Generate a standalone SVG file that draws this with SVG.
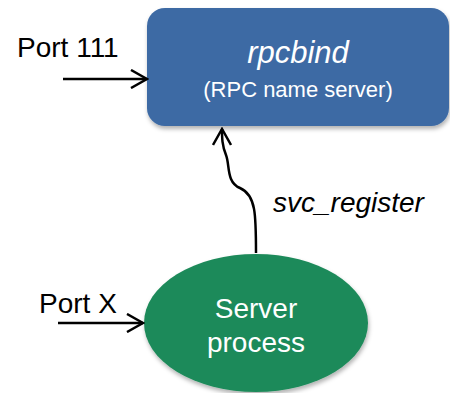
<svg xmlns="http://www.w3.org/2000/svg" width="450" height="393" viewBox="0 0 450 393">
<style>
.lbl{font-family:"Liberation Sans",Arial,sans-serif;fill:#000}
.wt{font-family:"Liberation Sans",Arial,sans-serif;fill:#fff;text-anchor:middle}
.con{fill:none;stroke:#000;stroke-width:2.5}
</style>
<defs>
<marker id="ah" viewBox="0 0 20 20" refX="18" refY="10" markerWidth="20" markerHeight="20" markerUnits="userSpaceOnUse" orient="auto">
<path d="M2,1 L18,10 L2,19" fill="none" stroke="#000" stroke-width="2.5"/>
</marker>
<filter id="sh" x="-10%" y="-10%" width="120%" height="130%">
<feDropShadow dx="1" dy="3" stdDeviation="2" flood-color="#000" flood-opacity="0.3"/>
</filter>
</defs>
<rect width="450" height="393" fill="#fff"/>
<g id="rpcbind">
<rect x="147" y="8" width="302" height="118" rx="18" fill="#3D6AA4" filter="url(#sh)"/>
<text class="wt" x="298" y="63" font-size="31" font-style="italic">rpcbind</text>
<text class="wt" x="298" y="97" font-size="22">(RPC name server)</text>
</g>
<g id="server">
<ellipse cx="256" cy="323" rx="112" ry="69" fill="#1E8A5A" filter="url(#sh)"/>
<text class="wt" x="256" y="318" font-size="28">Server</text>
<text class="wt" x="256" y="352" font-size="28">process</text>
</g>
<g id="port111">
<text class="lbl" x="17" y="57" font-size="28">Port 111</text>
</g>
<g id="portx">
<text class="lbl" x="39" y="313" font-size="28">Port X</text>
</g>
<g id="reglabel">
<text class="lbl" x="273" y="212" font-size="28" font-style="italic">svc_register</text>
</g>
<g id="connectors">
<path class="con" d="M63,79 L147,79" marker-end="url(#ah)"/>
<path class="con" d="M58,323 L143,323" stroke-width="3.5" marker-end="url(#ah)"/>
<path class="con" d="M256,253 C256,215 256,195 240,188 C226,182 230,165 226,155 C222,145 222,138 222,129" marker-end="url(#ah)"/>
</g>
</svg>
